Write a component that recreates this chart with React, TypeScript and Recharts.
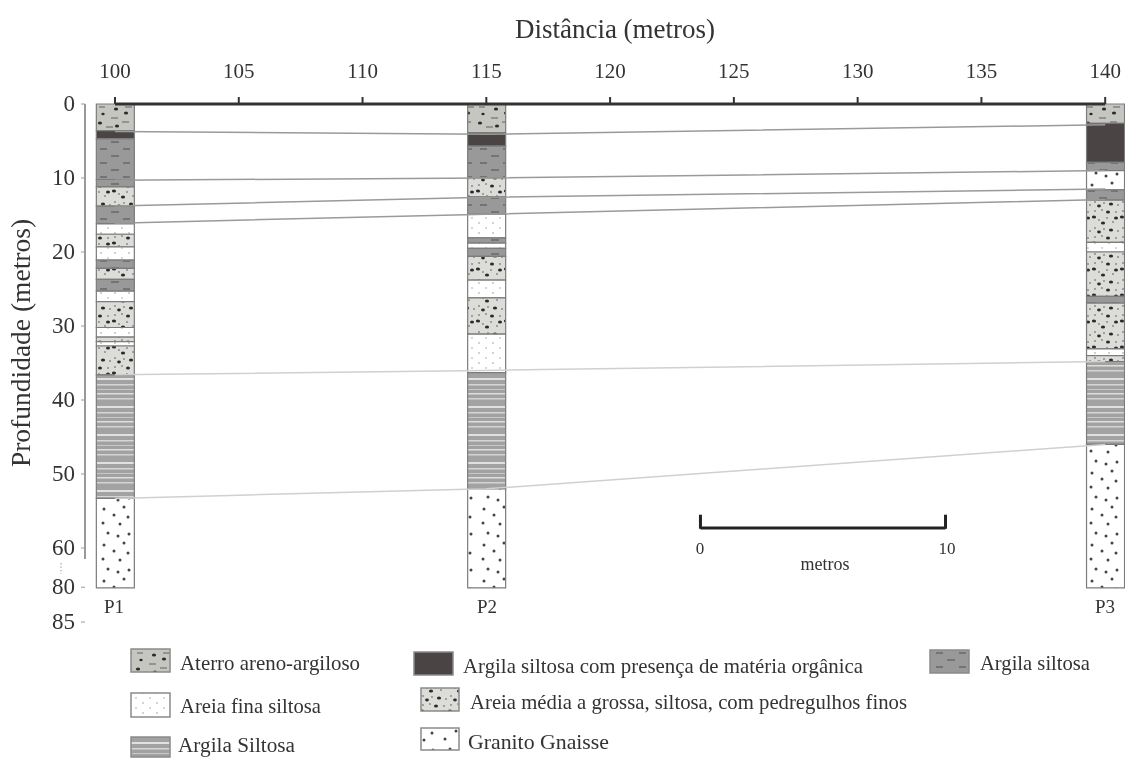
import React from "react";
import { ComposedChart, Bar, Line, Cell, XAxis, YAxis, ReferenceLine } from "recharts";

const distanceTicks = [100, 105, 110, 115, 120, 125, 130, 135, 140];
const depthTicks = [0, 10, 20, 30, 40, 50, 60, 65.3, 70];
const depthLabels = ["0", "10", "20", "30", "40", "50", "60", "80", "85"];
const wellNames = ["P1", "P2", "P3"];
const wellPositions = [100, 115, 140];

const p1Bottoms = [3.6, 4.7, 10.2, 11.2, 13.8, 16.2, 17.6, 19.3, 21.1, 22.2, 23.7, 25.3, 26.7, 30.2, 31.5, 32.1, 32.7, 36.6, 53.3, 65.4];
const p1Lith = ["aterro", "organica", "argila", "argila", "media", "argila", "fina", "media", "fina", "argila", "media", "argila", "fina", "media", "fina", "media", "fina", "media", "listrada", "granito"];
const p2Bottoms = [3.9, 5.7, 10.0, 12.5, 14.9, 18.1, 18.8, 19.5, 20.6, 23.8, 26.2, 31.1, 36.3, 52.0, 65.4];
const p2Lith = ["aterro", "organica", "argila", "media", "argila", "fina", "argila", "fina", "argila", "media", "fina", "media", "fina", "listrada", "granito"];
const p3Bottoms = [2.6, 7.9, 9.0, 11.6, 13.0, 18.7, 20.0, 26.0, 26.9, 33.1, 34.0, 34.8, 46.0, 65.4];
const p3Lith = ["aterro", "organica", "argila", "granito", "argila", "media", "fina", "media", "argila", "media", "fina", "media", "listrada", "granito"];

const correlation1 = [3.7, 4.1, 2.8];
const correlation2 = [10.3, 10.0, 9.0];
const correlation3 = [13.8, 12.6, 11.5];
const correlation4 = [16.1, 14.9, 12.9];
const correlation5 = [36.6, 36.0, 34.8];
const correlation6 = [53.3, 52.0, 46.0];

const legendLabels = [
  "Aterro areno-argiloso",
  "Areia fina siltosa",
  "Argila Siltosa",
  "Argila siltosa com presença de matéria orgânica",
  "Areia média a grossa, siltosa, com pedregulhos finos",
  "Granito Gnaisse",
  "Argila siltosa",
];
const legendLith = ["aterro", "fina", "listrada", "organica", "media", "granito", "argila"];

const wells = [
  { bottoms: p1Bottoms, lith: p1Lith },
  { bottoms: p2Bottoms, lith: p2Lith },
  { bottoms: p3Bottoms, lith: p3Lith },
];
const layerCount = Math.max(...wells.map((w) => w.bottoms.length));
const layerKeys = Array.from({ length: layerCount }, (_, i) => i);

const rows = wellPositions.map((x, w) => {
  const row: any = {
    x,
    c1: correlation1[w],
    c2: correlation2[w],
    c3: correlation3[w],
    c4: correlation4[w],
    c5: correlation5[w],
    c6: correlation6[w],
  };
  wells[w].bottoms.forEach((b, i) => {
    row["t" + i] = b - (i ? wells[w].bottoms[i - 1] : 0);
  });
  return row;
});

const SERIF = "'Liberation Serif', serif";
const INK = "#333333";

const legendBoxes = [
  [131, 649, 39, 23, 180, 670, 180],
  [131, 693, 39, 24, 180, 713, 141],
  [131, 737, 39, 20, 178, 752, 117],
  [414, 652, 39, 23, 463, 673, 400],
  [421, 688, 38, 23, 470, 709, 437],
  [421, 728, 38, 22, 468, 749, 141],
  [930, 650, 39, 23, 980, 670, 110],
];

function Blob({ x, y, r = 1.6 }: { x: number; y: number; r?: number }) {
  return <ellipse cx={x} cy={y} rx={r + 0.5} ry={r} fill="#2a2a2a" />;
}

function Patterns() {
  return (
    <defs>
      <pattern id="aterro" patternUnits="userSpaceOnUse" width="38" height="26" x="96" y="104">
        <rect width="38" height="26" fill="#c6c6c1" />
        <g stroke="#6a6a6a" strokeWidth="1.1">
          <line x1="3" y1="3" x2="9" y2="3" />
          <line x1="29" y1="3" x2="36" y2="3" />
          <line x1="15" y1="14" x2="22" y2="14" />
          <line x1="26" y1="18" x2="33" y2="18" />
          <line x1="10" y1="23" x2="17" y2="23" />
        </g>
        <Blob x={20} y={5} />
        <Blob x={7} y={10} r={1.2} />
        <Blob x={30} y={9} />
        <Blob x={4} y={19} />
        <Blob x={21} y={22} />
      </pattern>
      <pattern id="argila" patternUnits="userSpaceOnUse" width="38" height="14" x="96" y="104">
        <rect width="38" height="14" fill="#999999" />
        <g stroke="#555555" strokeWidth="1.1">
          <line x1="4" y1="3" x2="11" y2="3" />
          <line x1="27" y1="3" x2="34" y2="3" />
          <line x1="15" y1="10" x2="23" y2="10" />
        </g>
      </pattern>
      <pattern id="fina" patternUnits="userSpaceOnUse" width="14" height="10">
        <rect width="14" height="10" fill="#ffffff" />
        <circle cx="3" cy="3" r="0.9" fill="#bdbdbd" />
        <circle cx="10" cy="8" r="0.9" fill="#c6c6c6" />
      </pattern>
      <pattern id="media" patternUnits="userSpaceOnUse" width="28" height="26">
        <rect width="28" height="26" fill="#dcdcd8" />
        <g fill="#8b8b8b">
          <circle cx="3" cy="3" r="1" />
          <circle cx="10" cy="2" r="1" />
          <circle cx="24" cy="4" r="1" />
          <circle cx="7" cy="12" r="1" />
          <circle cx="15" cy="10" r="1" />
          <circle cx="21" cy="14" r="1" />
          <circle cx="3" cy="20" r="1" />
          <circle cx="12" cy="21" r="1" />
          <circle cx="26" cy="23" r="1" />
        </g>
        <Blob x={16} y={4} r={1.5} />
        <Blob x={2} y={9} r={1.6} />
        <Blob x={24} y={10} r={1.5} />
        <Blob x={11} y={15} r={1.6} />
        <Blob x={19} y={22} r={1.6} />
        <Blob x={7} y={24} r={1.4} />
      </pattern>
      <pattern id="listrada" patternUnits="userSpaceOnUse" width="8" height="28">
        <rect width="8" height="28" fill="#a2a2a2" />
        <rect y="1" width="8" height="1.5" fill="#dedede" />
        <rect y="6" width="8" height="1.5" fill="#d4d4d4" />
        <rect y="14" width="8" height="2" fill="#e0e0e0" />
        <rect y="20" width="8" height="1.5" fill="#d6d6d6" />
        <rect y="25" width="8" height="1" fill="#c8c8c8" />
      </pattern>
      <pattern id="granito" patternUnits="userSpaceOnUse" width="38" height="36" x="96" y="0">
        <rect width="38" height="36" fill="#ffffff" />
        <g fill="#444">
          <circle cx="8" cy="5" r="1.5" />
          <circle cx="28" cy="3" r="1.5" />
          <circle cx="18" cy="11" r="1.5" />
          <circle cx="32" cy="13" r="1.5" />
          <circle cx="7" cy="19" r="1.5" />
          <circle cx="24" cy="20" r="1.5" />
          <circle cx="12" cy="29" r="1.5" />
          <circle cx="22" cy="32" r="1.5" />
          <circle cx="33" cy="30" r="1.5" />
        </g>
      </pattern>
    </defs>
  );
}

const lithFill = (lith: string) => (lith === "organica" ? "#4a4544" : `url(#${lith})`);

function Annotations() {
  return (
    <g fontFamily={SERIF} fill={INK}>
      <line x1={61} y1={563} x2={61} y2={574} stroke="#aaa" strokeWidth={1.2} strokeDasharray="1.5 2" />
      {wellNames.map((name, i) => (
        <text key={name} x={[114, 487, 1105][i]} y={613} fontSize={19} textAnchor="middle">{name}</text>
      ))}
      <text x={700} y={554} fontSize={17} textAnchor="middle">0</text>
      <text x={947} y={554} fontSize={17} textAnchor="middle">10</text>
      <text x={825} y={570} fontSize={18} textAnchor="middle">metros</text>
      {legendLabels.map((label, i) => {
        const [x, y, w, h, tx, ty, tw] = legendBoxes[i];
        return (
          <g key={i}>
            <rect x={x} y={y} width={w} height={h} fill={lithFill(legendLith[i])} stroke="#8a8a8a" strokeWidth={1.5} />
            <text x={tx} y={ty} fontSize={i === 2 ? 20 : 21} textLength={tw} lengthAdjust="spacingAndGlyphs">{label}</text>
          </g>
        );
      })}
    </g>
  );
}

const corrKeys = ["c1", "c2", "c3", "c4", "c5", "c6"];

export default function App() {
  return (
    <div style={{ position: "absolute", left: 0, top: 0, width: 1131, height: 758, overflow: "hidden", background: "#fff", filter: "blur(0.5px)" }}>
      <ComposedChart
        width={1131}
        height={758}
        data={rows}
        margin={{ top: 44, right: 6, bottom: 136, left: 0 }}
      >
        <Patterns />
        <XAxis
          xAxisId="d"
          dataKey="x"
          type="number"
          orientation="top"
          domain={[98.788, 140.8]}
          allowDataOverflow
          ticks={distanceTicks}
          interval={0}
          height={60}
          axisLine={false}
          tickSize={7}
          tickMargin={19}
          tickLine={{ stroke: "#333", strokeWidth: 2 }}
          tick={{ fontFamily: SERIF, fontSize: 21, fill: INK }}
          label={{ value: "Distância (metros)", position: "top", offset: 0, dy: -6, dx: 10, fontFamily: SERIF, fontSize: 27, fill: INK } as any}
        />
        <YAxis
          yAxisId="z"
          type="number"
          reversed
          domain={[0, 70]}
          ticks={depthTicks}
          interval={0}
          width={85}
          axisLine={false}
          tickSize={4}
          tickMargin={6}
          tickLine={{ stroke: "#999" }}
          tickFormatter={(v: number) => depthLabels[depthTicks.indexOf(v)]}
          tick={{ fontFamily: SERIF, fontSize: 23, fill: INK, dy: -1 }}
          label={{ value: "Profundidade (metros)", angle: -90, position: "insideLeft", dx: 15, dy: -20, fontFamily: SERIF, fontSize: 27.5, fill: INK, style: { textAnchor: "middle" } } as any}
        />
        <ReferenceLine xAxisId="d" yAxisId="z" segment={[{ x: 98.788, y: 0 }, { x: 98.788, y: 61.5 }]} stroke="#999" strokeWidth={2} />
        {corrKeys.map((k, i) => (
          <Line
            key={k}
            xAxisId="d"
            yAxisId="z"
            dataKey={k}
            dot={false}
            activeDot={false}
            isAnimationActive={false}
            legendType="none"
            stroke={i < 4 ? "#9a9a9a" : "#d0d0d0"}
            strokeWidth={1.5}
          />
        ))}
        {layerKeys.map((i) => (
          <Bar
            key={i}
            xAxisId="d"
            yAxisId="z"
            dataKey={"t" + i}
            stackId="perfil"
            barSize={38}
            isAnimationActive={false}
            stroke="#7c7c7c"
            strokeWidth={1.2}
          >
            {wells.map((w, j) => (
              <Cell key={j} fill={w.lith[i] ? lithFill(w.lith[i]) : "none"} />
            ))}
          </Bar>
        ))}
        <ReferenceLine xAxisId="d" yAxisId="z" segment={[{ x: 100, y: 0 }, { x: 140, y: 0 }]} stroke="#333" strokeWidth={3} />
        <ReferenceLine xAxisId="d" yAxisId="z" segment={[{ x: 123.65, y: 57.3 }, { x: 133.55, y: 57.3 }]} stroke="#222" strokeWidth={3} />
        <ReferenceLine xAxisId="d" yAxisId="z" segment={[{ x: 123.65, y: 55.5 }, { x: 123.65, y: 57.4 }]} stroke="#222" strokeWidth={3} />
        <ReferenceLine xAxisId="d" yAxisId="z" segment={[{ x: 133.55, y: 55.5 }, { x: 133.55, y: 57.4 }]} stroke="#222" strokeWidth={3} />
        <Annotations />
      </ComposedChart>
    </div>
  );
}
